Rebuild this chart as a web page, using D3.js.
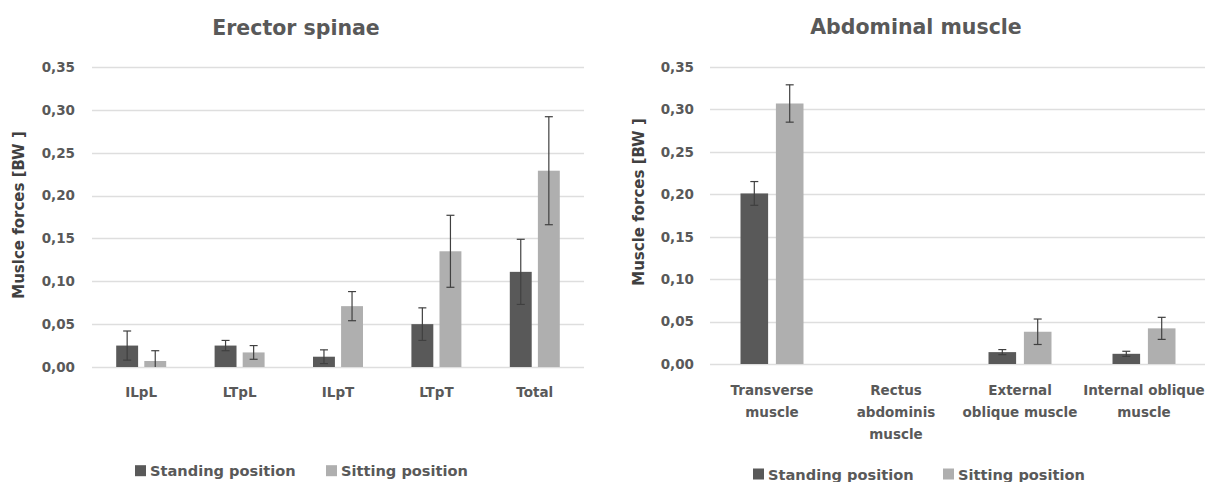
<!DOCTYPE html>
<html>
<head>
<meta charset="utf-8">
<script src="https://cdn.jsdelivr.net/npm/d3@7/dist/d3.min.js"></script>
<style>
  html, body { margin: 0; padding: 0; background: #fff; }
  svg { display: block; }
  text { font-family: "DejaVu Sans", sans-serif; font-weight: bold; }
</style>
</head>
<body>
<svg id="chart" width="1205" height="482"></svg>
<script>
// ---------- DATA ----------
const seriesNames = ["Standing position", "Sitting position"];
const yTicks = [0, 0.05, 0.10, 0.15, 0.20, 0.25, 0.30, 0.35];

const erectorTitle = "Erector spinae";
const erectorYTitle = "Muslce forces [BW ]";
const erectorCategories = ["ILpL", "LTpL", "ILpT", "LTpT", "Total"];
const erectorStanding = [0.025, 0.025, 0.012, 0.050, 0.111];
const erectorStandingErr = [0.017, 0.006, 0.008, 0.019, 0.038];
const erectorSitting = [0.007, 0.017, 0.071, 0.135, 0.229];
const erectorSittingErr = [0.012, 0.008, 0.017, 0.042, 0.063];

const abdTitle = "Abdominal muscle";
const abdYTitle = "Muscle forces [BW ]";
const abdCategories = ["Transverse\nmuscle", "Rectus\nabdominis\nmuscle", "External\noblique muscle", "Internal oblique\nmuscle"];
const abdStanding = [0.201, 0, 0.014, 0.012];
const abdStandingErr = [0.014, 0, 0.003, 0.003];
const abdSitting = [0.307, 0, 0.038, 0.042];
const abdSittingErr = [0.022, 0, 0.015, 0.013];

// ---------- STYLE ----------
const colors = ["#595959", "#afafaf"];
const textColor = "#595959";
const svg = d3.select("#chart");
svg.append("rect").attr("width", 1205).attr("height", 482).attr("fill", "#fff");

function drawChart(cfg) {
  const g = svg.append("g");
  const y = d3.scaleLinear().domain([0, 0.35]).range([cfg.y0, cfg.y1]);
  const x0 = d3.scaleBand().domain(cfg.categories).range([cfg.x0, cfg.x1])
    .paddingInner(0.492).paddingOuter(0.246);
  const x1 = d3.scaleBand().domain([0, 1]).range([0, x0.bandwidth()]).paddingInner(0.22);

  // gridlines
  g.append("g").selectAll("line").data(yTicks).join("line")
    .attr("x1", cfg.x0).attr("x2", cfg.gridEnd)
    .attr("y1", d => Math.round(y(d)) + 0.5).attr("y2", d => Math.round(y(d)) + 0.5)
    .attr("stroke", "#dedede").attr("stroke-width", 1.3);

  // y tick labels (via axis)
  const yAxis = d3.axisLeft(y).tickValues(yTicks).tickSize(0).tickPadding(0)
    .tickFormat(d => d3.format(".2f")(d).replace(".", ","));
  const ya = g.append("g").attr("transform", `translate(${cfg.tickX},0)`).call(yAxis);
  ya.select(".domain").remove();
  ya.selectAll("text").attr("fill", textColor).style("font-size", "13.5px")
    .style("font-family", "'DejaVu Sans', sans-serif").style("font-weight", "bold");

  // bars
  const series = [
    { vals: cfg.standing, errs: cfg.standingErr },
    { vals: cfg.sitting, errs: cfg.sittingErr }
  ];
  series.forEach((s, si) => {
    const data = cfg.categories.map((c, i) => ({ c, v: s.vals[i], e: s.errs[i] }));
    g.append("g").selectAll("rect").data(data.filter(d => d.v > 0)).join("rect")
      .attr("x", d => x0(d.c) + x1(si))
      .attr("width", x1.bandwidth())
      .attr("y", d => y(d.v))
      .attr("height", d => y(0) - y(d.v))
      .attr("fill", colors[si]);
    const eb = g.append("g").selectAll("g").data(data.filter(d => d.e > 0)).join("g")
      .attr("stroke", "#404040").attr("stroke-width", 1.2);
    const cx = d => x0(d.c) + x1(si) + x1.bandwidth() / 2;
    eb.append("line").attr("x1", cx).attr("x2", cx)
      .attr("y1", d => y(d.v + d.e)).attr("y2", d => y(Math.max(0, d.v - d.e)));
    eb.append("line").attr("x1", d => cx(d) - 4).attr("x2", d => cx(d) + 4)
      .attr("y1", d => y(d.v + d.e)).attr("y2", d => y(d.v + d.e));
    eb.filter(d => d.v - d.e > 0).append("line").attr("x1", d => cx(d) - 4).attr("x2", d => cx(d) + 4)
      .attr("y1", d => y(d.v - d.e)).attr("y2", d => y(d.v - d.e));
  });

  // category labels
  const cl = g.append("g").selectAll("text").data(cfg.categories).join("text")
    .attr("x", d => x0(d) + x0.bandwidth() / 2)
    .attr("y", cfg.catY)
    .attr("text-anchor", "middle").attr("fill", textColor).style("font-size", "13.5px");
  cl.each(function(d) {
    const lines = d.split("\n");
    d3.select(this).selectAll("tspan").data(lines).join("tspan")
      .attr("x", x0(d) + x0.bandwidth() / 2)
      .attr("dy", (l, i) => i === 0 ? 0 : 22.3)
      .text(l => l);
  });

  // title
  g.append("text").attr("x", cfg.titleX).attr("y", cfg.titleY).attr("text-anchor", "middle")
    .attr("fill", textColor).style("font-size", "20.5px").text(cfg.title);

  // y axis title
  g.append("text").attr("transform", `translate(${cfg.yTitleX},${cfg.yTitleY}) rotate(-90)`)
    .attr("text-anchor", "middle").attr("fill", "#404040").style("font-size", "15px").text(cfg.yTitle);

  // legend
  seriesNames.forEach((n, i) => {
    g.append("rect").attr("x", cfg.legendX[i]).attr("y", cfg.legendY - 5.5).attr("width", 11).attr("height", 11)
      .attr("fill", colors[i]);
    g.append("text").attr("x", cfg.legendX[i] + 15).attr("y", cfg.legendY + 5.5)
      .attr("fill", textColor).style("font-size", "14.6px").text(n);
  });
}

drawChart({
  title: erectorTitle, yTitle: erectorYTitle, categories: erectorCategories,
  standing: erectorStanding, standingErr: erectorStandingErr,
  sitting: erectorSitting, sittingErr: erectorSittingErr,
  x0: 92, x1: 584, gridEnd: 584, y0: 367, y1: 67, tickX: 75,
  catY: 397, titleX: 296, titleY: 35, yTitleX: 24, yTitleY: 215,
  legendX: [135, 326], legendY: 470.7
});

drawChart({
  title: abdTitle, yTitle: abdYTitle, categories: abdCategories,
  standing: abdStanding, standingErr: abdStandingErr,
  sitting: abdSitting, sittingErr: abdSittingErr,
  x0: 710, x1: 1206, gridEnd: 1205, y0: 364, y1: 67, tickX: 694,
  catY: 394.5, titleX: 916, titleY: 34, yTitleX: 644, yTitleY: 202,
  legendX: [753, 943], legendY: 474
});
</script>
</body>
</html>
